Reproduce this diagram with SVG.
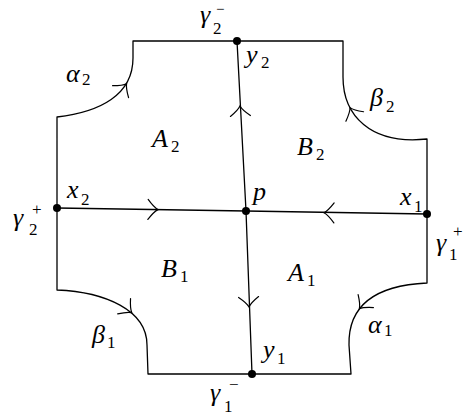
<svg xmlns="http://www.w3.org/2000/svg" width="465" height="417" viewBox="0 0 465 417">
<style>
.ln{fill:none;stroke:#000;stroke-width:1.3;stroke-linejoin:round}
.ah{fill:none;stroke:#000;stroke-width:1.2;stroke-linecap:round}
.dot{fill:#000}
.m{font-family:"Liberation Serif",serif;font-style:italic;font-size:26px}
.s{font-family:"Liberation Serif",serif;font-size:17px}
.sm{font-family:"Liberation Serif",serif;font-size:15px}
</style>
<defs>
<path id="ah" class="ah" d="M-9,-10 Q-3,-2 1,0 Q-3,2 -9,10"/>
</defs>
<rect width="465" height="417" fill="#fff"/>
<g id="connectors">
<path id="outline" class="ln" d="M133,41 L343,41 L343,77 C343,115 370,145 427,139 L427,283 C384,285 348,300 349,345 L351,374 L148,374 L147,345 C147,310 105,292 57,290 L57,117 C100,112 133,95 133,58 Z"/>
<path id="h-line" class="ln" d="M57,208 L246,211 L427,214"/>
<path id="v-line" class="ln" d="M237,41 L246,211 L252,374"/>
<use href="#ah" transform="translate(157,209.6) rotate(0.9)"/>
<use href="#ah" transform="translate(325,212.8) rotate(180.9)"/>
<use href="#ah" transform="translate(240,107) rotate(-92.6)"/>
<use href="#ah" transform="translate(249,306) rotate(87.4)"/>
<use href="#ah" transform="translate(126,84.5) rotate(-53)"/>
<use href="#ah" transform="translate(350.5,108.5) rotate(-118)"/>
<use href="#ah" transform="translate(131,312) rotate(40)"/>
<use href="#ah" transform="translate(360,308) rotate(130)"/>
</g>
<g id="node-y2"><circle class="dot" cx="237" cy="41" r="4"/><text class="m" x="246" y="63">y</text><text class="s" x="261" y="68">2</text></g>
<g id="node-gamma2m"><text class="m" x="200" y="23">γ</text><text class="s" x="213" y="34">2</text><text class="sm" x="216" y="14">−</text></g>
<g id="node-x2"><circle class="dot" cx="57" cy="208" r="4"/><text class="m" x="67" y="198">x</text><text class="s" x="81" y="205">2</text></g>
<g id="node-gamma2p"><text class="m" x="13" y="226">γ</text><text class="s" x="29" y="235">2</text><text class="s" x="32" y="215">+</text></g>
<g id="node-p"><circle class="dot" cx="246" cy="211" r="4"/><text class="m" x="253" y="200">p</text></g>
<g id="node-x1"><circle class="dot" cx="427" cy="214" r="4"/><text class="m" x="400" y="205">x</text><text class="s" x="414" y="212">1</text></g>
<g id="node-gamma1p"><text class="m" x="436" y="251">γ</text><text class="s" x="449" y="260">1</text><text class="s" x="453" y="237">+</text></g>
<g id="node-y1"><circle class="dot" cx="252" cy="374" r="4"/><text class="m" x="263" y="358">y</text><text class="s" x="277" y="364">1</text></g>
<g id="node-gamma1m"><text class="m" x="210" y="401">γ</text><text class="s" x="224" y="412">1</text><text class="s" x="229" y="390">−</text></g>
<g id="region-A2"><text class="m" x="152" y="147">A</text><text class="s" x="171" y="152">2</text></g>
<g id="region-B2"><text class="m" x="297" y="155">B</text><text class="s" x="316" y="160">2</text></g>
<g id="region-B1"><text class="m" x="161" y="277">B</text><text class="s" x="180" y="282">1</text></g>
<g id="region-A1"><text class="m" x="288" y="281">A</text><text class="s" x="307" y="286">1</text></g>
<g id="label-alpha2"><text class="m" x="66" y="82">α</text><text class="s" x="82" y="85">2</text></g>
<g id="label-beta2"><text class="m" x="370" y="106">β</text><text class="s" x="386" y="112">2</text></g>
<g id="label-beta1"><text class="m" x="92" y="343">β</text><text class="s" x="107" y="348">1</text></g>
<g id="label-alpha1"><text class="m" x="368" y="333">α</text><text class="s" x="384" y="336">1</text></g>
</svg>
